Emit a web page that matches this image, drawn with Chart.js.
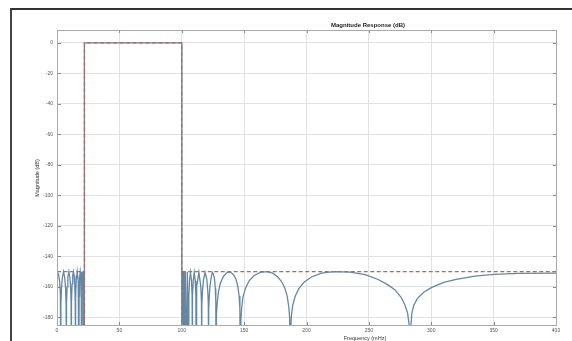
<!DOCTYPE html>
<html>
<head>
<meta charset="utf-8">
<script src="https://cdn.jsdelivr.net/npm/chart.js@4.4.1/dist/chart.umd.min.js"></script>
<style>
  html, body { margin: 0; padding: 0; background: #fff; }
  #wrap { position: relative; width: 572px; height: 341px; overflow: hidden; }
  #frame { position: absolute; left: 10px; top: 8px; width: 600px; height: 400px;
           border-top: 2px solid #333; border-left: 2px solid #444; }
  canvas { position: absolute; left: 0; top: 0; }
</style>
</head>
<body>
<div id="wrap">
  <div id="frame"></div>
  <canvas id="chart" width="572" height="341"></canvas>
</div>
<script>
// magnitude response (mHz, dB); nulls go below the axis and are clipped
const lowFreq = [0, 1.2, 2.2, 2.7, 3,
  3.2, 3.6, 4.3, 5.25, 6.2, 6.9, 7.3, 7.5,
  7.7, 8.1, 8.7, 9.5, 10.3, 10.9, 11.3, 11.5,
  11.7, 12.1, 12.6, 13.15, 13.7, 14.2, 14.6, 14.8,
  15, 15.4, 16.2, 17, 17.4, 17.6,
  17.75, 18.1, 18.6, 19.1, 19.45, 19.6,
  19.72, 20.25, 20.78, 20.9,
  21.2, 21.5, 21.7, 21.9];
const lowMag = [-150, -151.5, -157, -165, -220,
  -172, -161, -154, -150, -154, -161, -172, -220,
  -171, -160, -153.5, -150, -153.5, -160, -171, -220,
  -170, -158, -152.5, -150, -152.5, -158, -170, -220,
  -168, -156, -150, -156, -168, -220,
  -166, -154, -150, -154, -166, -220,
  -162, -150, -162, -220,
  -150, -220, -152, -220];

const passFreq = [22, 100];
const passMag = [0, 0];

const highFreq = [100.1, 100.35, 100.6, 100.95, 101.3, 101.8, 102.3, 102.9, 103.5, 104.5, 105.5,
  105.7, 106.2, 107, 107.8, 108.3, 108.5,
  108.7, 109.2, 110, 110.8, 111.3, 111.5,
  111.7, 112.2, 113.75, 115.3, 115.8, 116,
  116.2, 116.6, 117.3, 118.7, 120.1, 120.9, 121.3, 121.5,
  121.7, 122.1, 122.7, 123.6, 124.5, 125.4, 126.3, 126.9, 127.3, 127.5,
  127.8, 128.5, 129.5, 131, 133.5, 136.5, 139, 141.5, 143.5, 145, 146, 146.6, 147,
  147.4, 148, 149, 151, 154, 158, 163, 168, 173, 177, 180, 182.5, 184.5, 185.8, 186.5, 187,
  187.5, 188, 189, 191, 194, 198, 204, 212, 222, 235, 247, 257, 265, 271, 276, 279, 281, 282.3, 283,
  283.7, 284.5, 286, 289, 294, 300, 310, 320, 335, 350, 370, 400];
const highMag = [-220, -150, -220, -150, -220, -150, -220, -150, -220, -150, -220,
  -166, -156, -150.5, -156, -166, -220,
  -166, -156, -150.5, -156, -166, -220,
  -170, -160, -150.5, -160, -170, -220,
  -172, -163, -156, -150.5, -155, -163, -172, -220,
  -175, -166, -159, -154, -150.5, -151.5, -155, -161, -170, -220,
  -178, -170, -163, -157.5, -153, -150.5, -150.3, -152, -155, -160, -166, -174, -220,
  -182, -174, -167, -161, -156, -152.5, -150.5, -150, -151, -153.5, -156.5, -160.5, -166, -173, -180, -220,
  -185, -178, -172, -166, -161, -157, -153.5, -151, -150, -150.3, -152, -155, -158.5, -162, -167, -172, -177, -185, -220,
  -185, -177, -172, -167.5, -163.5, -160.5, -157, -155, -153, -151.8, -151.2, -151];

// design mask (dashed), null = gap
const maskFreq = [0, 22, 22, 22, 22, 100, 100, 100, 100, 400];
const maskMag = [-150, -150, null, -220, 0, 0, -220, null, -150, -150];

const xTicks = [0, 50, 100, 150, 200, 250, 300, 350, 400];
const yTicks = [0, -20, -40, -60, -80, -100, -120, -140, -160, -180];

const toPts = (xs, ys) => xs.map((x, i) => ({ x: x, y: ys[i] }));
const respPts = toPts(lowFreq, lowMag).concat(toPts(passFreq, passMag), toPts(highFreq, highMag));

const FONT = '"Liberation Sans", Arial, sans-serif';

const decor = {
  id: 'decor',
  afterDraw(chart) {
    const ctx = chart.ctx, a = chart.chartArea;
    const xs = chart.scales.x, ys = chart.scales.y;
    ctx.save();
    // inner tick marks
    ctx.strokeStyle = '#888';
    ctx.lineWidth = 1;
    ctx.beginPath();
    xTicks.forEach(v => {
      const px = Math.round(xs.getPixelForValue(v)) + 0.5;
      ctx.moveTo(px, a.top); ctx.lineTo(px, a.top + 3);
      ctx.moveTo(px, a.bottom); ctx.lineTo(px, a.bottom - 3);
    });
    yTicks.forEach(v => {
      const py = Math.round(ys.getPixelForValue(v)) + 0.5;
      ctx.moveTo(a.left, py); ctx.lineTo(a.left + 4, py);
      ctx.moveTo(a.right, py); ctx.lineTo(a.right - 3, py);
    });
    ctx.stroke();
    // axes box
    ctx.strokeStyle = '#aaa';
    ctx.strokeRect(Math.round(a.left) + 0.5, Math.round(a.top) + 0.5,
      Math.round(a.right - a.left), Math.round(a.bottom - a.top));
    // texts
    ctx.fillStyle = '#222';
    ctx.textAlign = 'center';
    ctx.textBaseline = 'middle';
    ctx.font = 'bold 6px ' + FONT;
    ctx.fillText('Magnitude Response (dB)', 368, 25);
    ctx.font = '5.5px ' + FONT;
    ctx.fillStyle = '#333';
    ctx.fillText('Frequency (mHz)', 365, 338);
    ctx.translate(37, 178);
    ctx.rotate(-Math.PI / 2);
    ctx.fillText('Magnitude (dB)', 0, 0);
    ctx.restore();
  }
};

new Chart(document.getElementById('chart'), {
  type: 'line',
  data: {
    datasets: [
      {
        data: toPts(maskFreq, maskMag),
        borderColor: 'rgb(180,105,90)',
        borderWidth: 1.3,
        borderDash: [4, 2.5],
        pointRadius: 0,
        spanGaps: false,
        tension: 0
      },
      {
        data: respPts,
        borderColor: 'rgb(98,136,165)',
        borderWidth: 1.3,
        pointRadius: 0,
        tension: 0
      }
    ]
  },
  options: {
    responsive: false,
    animation: false,
    layout: { padding: { left: 0, right: 16, top: 30, bottom: 0 } },
    plugins: { legend: { display: false }, tooltip: { enabled: false } },
    scales: {
      x: {
        type: 'linear',
        min: 0, max: 400,
        afterFit: s => { s.height = 16; },
        afterBuildTicks: s => { s.ticks = xTicks.map(v => ({ value: v })); },
        grid: { color: '#e2e2e2', drawTicks: false },
        border: { display: false },
        ticks: { padding: 3, color: '#555', font: { family: FONT, size: 5 }, maxRotation: 0 }
      },
      y: {
        min: -185, max: 8.5,
        afterFit: s => { s.width = 57; },
        afterBuildTicks: s => { s.ticks = yTicks.map(v => ({ value: v })); },
        grid: { color: '#e2e2e2', drawTicks: false },
        border: { display: false },
        ticks: { padding: 4, color: '#555', font: { family: FONT, size: 5 } }
      }
    }
  },
  plugins: [decor]
});
</script>
</body>
</html>
